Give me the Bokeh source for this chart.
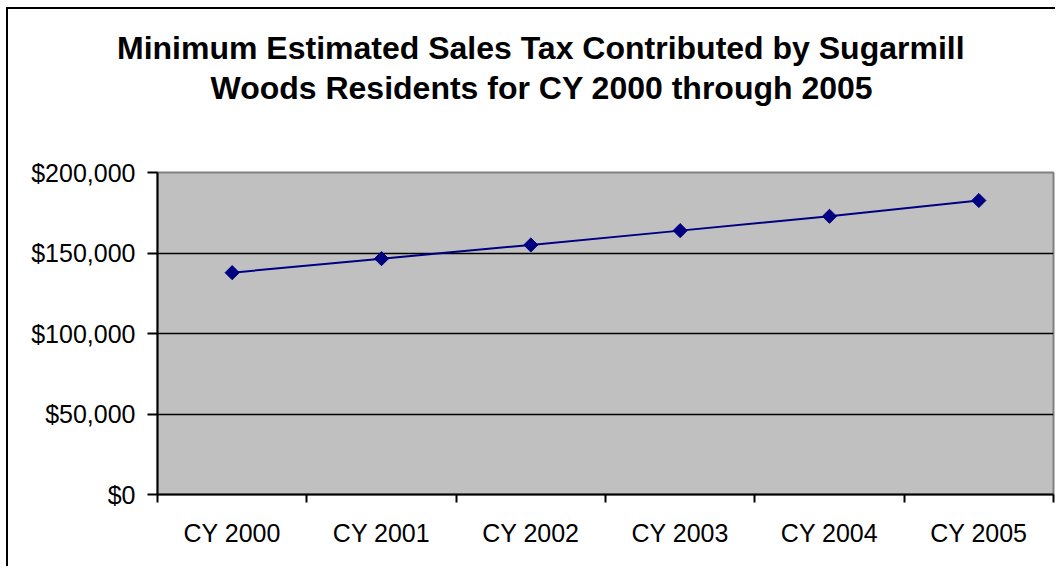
import math
from bokeh.plotting import figure
from bokeh.models import Range1d, FixedTicker, NumeralTickFormatter, Title
from bokeh.embed import file_html
from bokeh.resources import INLINE

# ---- data ----
categories = ["CY 2000", "CY 2001", "CY 2002", "CY 2003", "CY 2004", "CY 2005"]
sales_tax = [137800, 146500, 155000, 163900, 172800, 182600]
y_ticks = [0, 50000, 100000, 150000, 200000]
title_lines = ["Minimum Estimated Sales Tax Contributed by Sugarmill",
               "Woods Residents for CY 2000 through 2005"]

positions = list(range(1, len(categories) + 1))
boundaries = [p - 0.5 for p in positions] + [positions[-1] + 0.5]

FONT = "Liberation Sans"

p = figure(width=1055, height=566, output_backend="svg", toolbar_location=None,
           x_range=Range1d(0.5, len(categories) + 0.5), y_range=Range1d(0, y_ticks[-1]),
           min_border_left=157, min_border_right=2, min_border_top=172, min_border_bottom=72)

p.styles = {"box-shadow": "inset 6px 7px 0 0 white, inset 8px 9px 0 0 black"}
p.background_fill_color = "#C0C0C0"
p.border_fill_color = None
p.outline_line_color = "#808080"
p.outline_line_width = 2

p.line(positions, sales_tax, line_color="#000080", line_width=2)
p.scatter(positions, sales_tax, marker="square", size=10, angle=math.pi / 4,
          fill_color="#000080", line_color="#000080")

# ---- title: two left-anchored lines (offsets centre them at x=540) plus spacers ----
def spacer(standoff):
    return Title(text=" ", text_font_size="1px", standoff=standoff)

def title_line(text, offset, standoff):
    return Title(text=text, align="left", offset=offset, standoff=standoff,
                 vertical_align="bottom", text_font=FONT, text_font_size="32px",
                 text_font_style="bold", text_color="black")

p.title = spacer(19.5)
p.add_layout(spacer(64), "above")
p.add_layout(title_line(title_lines[1], 53, 0), "above")
p.add_layout(title_line(title_lines[0], -40.5, 4), "above")

# x axis
xa = p.xaxis[0]
xa.ticker = FixedTicker(ticks=positions, minor_ticks=boundaries)
xa.major_label_overrides = {pos: lab for pos, lab in zip(positions, categories)}
xa.major_tick_in = 0
xa.major_tick_out = 0
xa.minor_tick_in = 0
xa.minor_tick_out = 8
xa.minor_tick_line_color = "black"
xa.minor_tick_line_width = 2
xa.axis_line_color = "black"
xa.axis_line_width = 2
xa.major_label_text_font = FONT
xa.major_label_text_font_size = "25px"
xa.major_label_text_color = "black"
xa.major_label_standoff = 16

# y axis
ya = p.yaxis[0]
ya.ticker = FixedTicker(ticks=y_ticks)
ya.formatter = NumeralTickFormatter(format="$0,0")
ya.major_tick_in = 0
ya.major_tick_out = 10
ya.major_tick_line_color = "black"
ya.major_tick_line_width = 2
ya.minor_tick_line_color = None
ya.axis_line_color = "black"
ya.axis_line_width = 2
ya.major_label_text_font = FONT
ya.major_label_text_font_size = "25px"
ya.major_label_text_color = "black"
ya.major_label_standoff = 12

p.xgrid.grid_line_color = None
p.ygrid.ticker = FixedTicker(ticks=y_ticks)
p.ygrid.grid_line_color = "black"
p.ygrid.grid_line_width = 1.5

open("out.html", "w").write(file_html(p, INLINE))
